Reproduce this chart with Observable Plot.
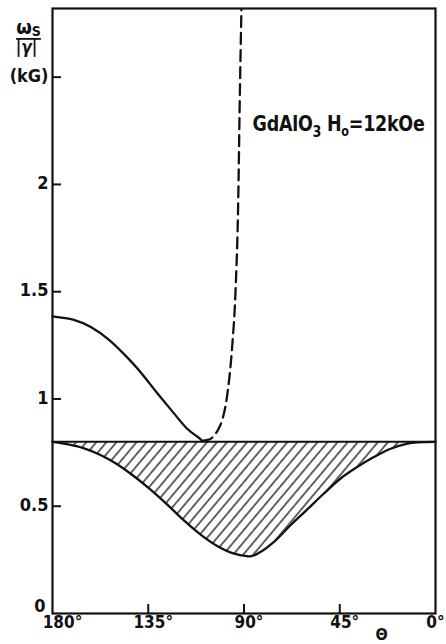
<!DOCTYPE html>
<html><head><meta charset="utf-8">
<script src="https://cdn.jsdelivr.net/npm/d3@7"></script>
<script src="https://cdn.jsdelivr.net/npm/@observablehq/plot@0.6"></script>
<style>
html,body{margin:0;padding:0;background:#fff;}
</style></head><body><div id="chart"></div>
<script>
// Lower (hatched boundary) curve
const lowerTheta = [180, 172, 165.5, 157.7, 149.8, 142, 134.2, 126.3, 118.5, 110.7, 102.8, 95, 88.7, 87.2, 82.5, 76.2, 68.4, 60.6, 52.7, 44.9, 37.1, 29.2, 21.4, 13.6, 5.7, 0];
const lowerField = [0.80, 0.787, 0.771, 0.740, 0.697, 0.642, 0.580, 0.510, 0.436, 0.370, 0.316, 0.280, 0.267, 0.266, 0.285, 0.331, 0.409, 0.482, 0.557, 0.627, 0.681, 0.728, 0.767, 0.791, 0.799, 0.80];
// Upper solid curve
const upperTheta = [180, 170, 162, 154, 146.5, 138.6, 131, 123, 116.7, 112, 109.7];
const upperField = [1.385, 1.369, 1.335, 1.28, 1.21, 1.125, 1.03, 0.934, 0.861, 0.825, 0.805];
// Dashed curve
const dashTheta = [109.7, 106, 104, 102, 100.3, 98, 95.6, 94, 92.7, 92, 91.2];
const dashField = [0.805, 0.812, 0.83, 0.86, 0.90, 1.01, 1.24, 1.5, 1.93, 2.39, 2.82];
// Constant level
const fieldLevel = 0.8;
// Axes
const xDomain = [180, 0];
const yDomain = [0, 2.82];
const xTicks = [180, 135, 90, 45, 0];
const yTicks = [0, 0.5, 1, 1.5, 2, 2.5];
const yTickLabels = ["0", "0.5", "1", "1.5", "2", "(kG)"];
const annotation = ["GdAlO3 Ho=12kOe"];
const xLabel = ["Θ"];
const yLabelTop = ["ωs"];
const yLabelBottom = ["|γ|"];

const lower = lowerTheta.map((t, i) => ({theta: t, field: lowerField[i], level: fieldLevel}));
const upper = upperTheta.map((t, i) => ({theta: t, field: upperField[i]}));
const dash = dashTheta.map((t, i) => ({theta: t, field: dashField[i]}));

const font = "'DejaVu Sans Condensed','DejaVu Sans',sans-serif";
const ink = "#111";
const W = 446, H = 644, mL = 52, mR = 11, mT = 8, mB = 31;
const tickLen = 9;
// tick length expressed in data units of each scale
const tickDx = tickLen * Math.abs(xDomain[0] - xDomain[1]) / (W - mL - mR);
const tickDy = tickLen * (yDomain[1] - yDomain[0]) / (H - mT - mB);
const xFmt = d => d + "°";
const yFmt = d => yTickLabels[yTicks.indexOf(d)];

const chart = Plot.plot({
  width: W, height: H,
  marginLeft: mL, marginRight: mR, marginTop: mT, marginBottom: mB,
  style: {fontFamily: font, fontSize: "18px", fontWeight: "bold", color: ink, background: "#fff"},
  x: {domain: xDomain},
  y: {domain: yDomain},
  marks: [
    Plot.areaY(lower, {x: "theta", y1: "field", y2: "level", fill: "url(#hatch)", curve: "monotone-x"}),
    Plot.ruleY([fieldLevel], {stroke: ink, strokeWidth: 2}),
    Plot.line(lower, {x: "theta", y: "field", stroke: ink, strokeWidth: 2.3, curve: "monotone-x"}),
    Plot.line(upper, {x: "theta", y: "field", stroke: ink, strokeWidth: 2.3, curve: "natural"}),
    Plot.line(dash, {x: "theta", y: "field", stroke: ink, strokeWidth: 2.3, strokeDasharray: "11,6", curve: "monotone-x", clip: true}),
    Plot.frame({stroke: ink, strokeWidth: 2.2}),
    // inward tick marks
    Plot.ruleY(yTicks.slice(1), {y: d => d, x1: xDomain[0], x2: xDomain[0] - tickDx, stroke: ink, strokeWidth: 2}),
    Plot.ruleX(xTicks.slice(1, -1), {x: d => d, y1: yDomain[0], y2: yDomain[0] + tickDy, stroke: ink, strokeWidth: 2}),
    // tick labels
    Plot.axisX({ticks: xTicks.slice(0, 1), tickFormat: xFmt, tickSize: 0, tickPadding: 2, label: null, dx: 10, fontSize: 17}),
    Plot.axisX({ticks: xTicks.slice(1, -1), tickFormat: xFmt, tickSize: 0, tickPadding: 2, label: null, dx: 5, fontSize: 17}),
    Plot.axisX({ticks: xTicks.slice(-1), tickFormat: xFmt, tickSize: 0, tickPadding: 2, label: null, dx: 0, fontSize: 17}),
    Plot.axisY({ticks: yTicks.slice(1), tickFormat: yFmt, tickSize: 0, tickPadding: 4, dy: -1, label: null}),
    Plot.axisY({ticks: yTicks.slice(0, 1), tickFormat: yFmt, tickSize: 0, tickPadding: 7, dy: -7, label: null}),
    Plot.text(annotation, {frameAnchor: "top-right", dx: -11, dy: 115, textAnchor: "end", lineAnchor: "middle", fontSize: 22, fontWeight: "bold", fill: ink}),
    Plot.text(xLabel, {frameAnchor: "bottom-right", dx: -54, dy: 21, textAnchor: "middle", lineAnchor: "middle", fontSize: 16, fontWeight: "bold", fill: ink}),
    Plot.text(yLabelTop, {frameAnchor: "top-left", dx: -24, dy: 19, textAnchor: "middle", lineAnchor: "middle", fontSize: 20, fontWeight: "bold", fill: ink}),
    Plot.text(yLabelBottom, {frameAnchor: "top-left", dx: -26, dy: 39, textAnchor: "middle", lineAnchor: "middle", fontSize: 17, fontWeight: "bold", fontStyle: "italic", fill: ink})
  ]
});

const svg = d3.select(chart);
const defs = svg.insert("defs", ":first-child");
const pat = defs.append("pattern")
  .attr("id", "hatch").attr("patternUnits", "userSpaceOnUse")
  .attr("width", 7.7).attr("height", 10)
  .attr("patternTransform", "rotate(40)");
pat.append("line").attr("x1", 3.85).attr("y1", 0).attr("x2", 3.85).attr("y2", 10)
  .attr("stroke", ink).attr("stroke-width", 1.3);

const byText = s => svg.selectAll("text").filter(function() { return this.textContent === s; });

// y label: omega with subscript S
byText(yLabelTop[0]).each(function() {
  const t = d3.select(this);
  t.text(null);
  t.append("tspan").text("ω");
  t.append("tspan").attr("font-size", 14).attr("dy", 2).text("S");
});
// annotation with subscripts
byText(annotation[0]).each(function() {
  const t = d3.select(this);
  t.text(null).style("letter-spacing", "-0.3px");
  t.append("tspan").text("GdAlO");
  t.append("tspan").attr("font-size", 16).attr("dy", 6).text("3");
  t.append("tspan").attr("dy", -6).text(" H");
  t.append("tspan").attr("font-size", 14).attr("dy", 5).text("o");
  t.append("tspan").attr("dy", -5).text("=12kOe");
});

document.getElementById("chart").appendChild(chart);

// condense annotation horizontally to the reference width (text is end-anchored)
byText("GdAlO3 Ho=12kOe").each(function() {
  const b = this.getBBox();
  const s = Math.min(1, 172 / b.width);
  this.setAttribute("transform", (this.getAttribute("transform") || "") + ` scale(${s},1)`);
});

// fraction bar under omega_s, computed from the label's box
byText("ωS").each(function() {
  const b = this.getBBox();
  d3.select(this.parentNode).append("line")
    .attr("transform", this.getAttribute("transform"))
    .attr("x1", b.x).attr("x2", b.x + b.width)
    .attr("y1", b.y + b.height).attr("y2", b.y + b.height)
    .attr("stroke", ink).attr("stroke-width", 1.8);
});
</script>
</body></html>
